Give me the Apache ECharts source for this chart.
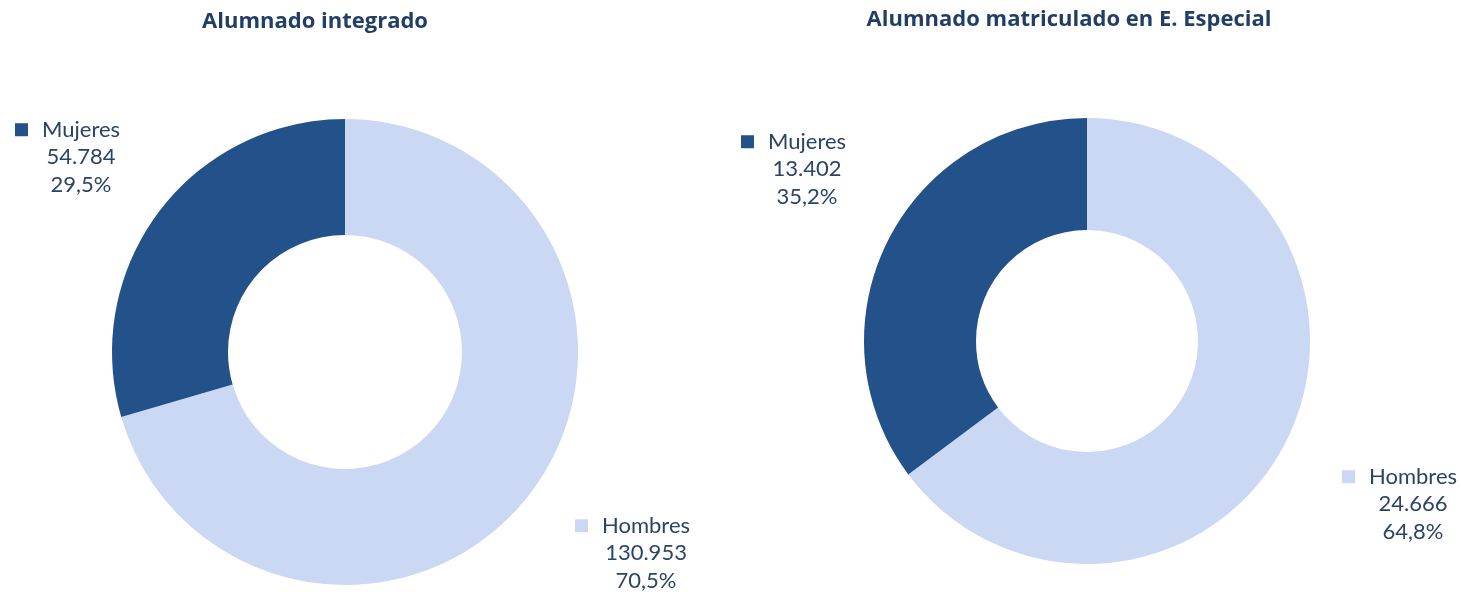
<!DOCTYPE html>
<html>
<head>
<meta charset="utf-8">
<style>
  html, body { margin: 0; padding: 0; background: #fff; }
  #chart { width: 1461px; height: 597px; }
</style>
<script src="https://cdn.jsdelivr.net/npm/echarts@6/dist/echarts.min.js"></script>
</head>
<body>
<div id="chart"></div>
<script>
var categories = ['Hombres', 'Mujeres'];
var integradoValues = [130953, 54784];
var integradoPercents = ['70,5%', '29,5%'];
var especialValues = [24666, 13402];
var especialPercents = ['64,8%', '35,2%'];
var titles = ['Alumnado integrado', 'Alumnado matriculado en E. Especial'];

var colors = ['#CAD8F4', '#23518A'];
var textColor = '#2B4466';
var labelFont = 'Lato, "Open Sans", sans-serif';
var titleFont = '"Open Sans", "Noto Sans", sans-serif';
var labelSize = 22;

function fmtNumber(v) {
    return String(v).replace(/\B(?=(\d{3})+(?!\d))/g, '.');
}

// width of a category name, so the value lines can be centred under it
var measureCtx = document.createElement('canvas').getContext('2d');
function nameWidth(name) {
    measureCtx.font = labelSize + 'px ' + labelFont;
    return Math.round(measureCtx.measureText(name).width);
}

function buildData(values, percents) {
    return categories.map(function (name, i) {
        return { name: name, value: values[i], pct: percents[i], itemStyle: { color: colors[i] } };
    });
}

function labelStyle() {
    return {
        show: true,
        position: 'inside',
        overflow: 'none',
        color: textColor,
        fontFamily: labelFont,
        fontSize: labelSize,
        lineHeight: 27.5,
        formatter: function (p) {
            var key = p.dataIndex === 0 ? 'sqL' : 'sqD';
            var wk = 'w' + nameWidth(p.name);
            return '{' + key + '|}{n|' + p.name + '}\n{sp|}{' + wk + '|' + fmtNumber(p.value) + '}\n{sp|}{' + wk + '|' + p.data.pct + '}';
        },
        rich: (function () {
            var r = {
                sqL: { width: 13, height: 13, backgroundColor: colors[0] },
                sqD: { width: 13, height: 13, backgroundColor: colors[1] },
                sp: { width: 27 },
                n: { fontSize: labelSize, color: textColor, fontFamily: labelFont, padding: [0, 0, 0, 14], lineHeight: 27.5 }
            };
            categories.forEach(function (c) {
                var w = nameWidth(c);
                r['w' + w] = { width: w, align: 'center', fontSize: labelSize, color: textColor, fontFamily: labelFont, lineHeight: 27.5 };
            });
            return r;
        })()
    };
}

// label anchor positions (left of the marker square, top of first line)
var labelPos = [
    [[575, 512], [15, 116]],
    [[1342, 463], [741, 128]]
];

var chart = echarts.init(document.getElementById('chart'), null, { renderer: 'canvas' });

var option = {
    animation: false,
    title: [
        {
            text: titles[0], left: 310, top: 6, textAlign: 'center',
            textStyle: { fontFamily: titleFont, fontSize: 22, fontWeight: 'bold', color: '#213F66' }
        },
        {
            text: titles[1], left: 1064, top: 4, textAlign: 'center',
            textStyle: { fontFamily: titleFont, fontSize: 22, fontWeight: 'bold', color: '#213F66' }
        }
    ],
    series: [
        {
            type: 'pie',
            center: [345, 352],
            radius: [117, 233],
            startAngle: 90,
            clockwise: true,
            silent: true,
            label: labelStyle(),
            labelLine: { show: false },
            labelLayout: function (p) {
                var pos = labelPos[0][p.dataIndex];
                return { x: pos[0], y: pos[1], align: 'left', verticalAlign: 'top' };
            },
            data: buildData(integradoValues, integradoPercents)
        },
        {
            type: 'pie',
            center: [1087, 341],
            radius: [111, 223],
            startAngle: 90,
            clockwise: true,
            silent: true,
            label: labelStyle(),
            labelLine: { show: false },
            labelLayout: function (p) {
                var pos = labelPos[1][p.dataIndex];
                return { x: pos[0], y: pos[1], align: 'left', verticalAlign: 'top' };
            },
            data: buildData(especialValues, especialPercents)
        }
    ]
};

chart.setOption(option);
window.addEventListener('resize', function () { chart.resize(); });
</script>
</body>
</html>
